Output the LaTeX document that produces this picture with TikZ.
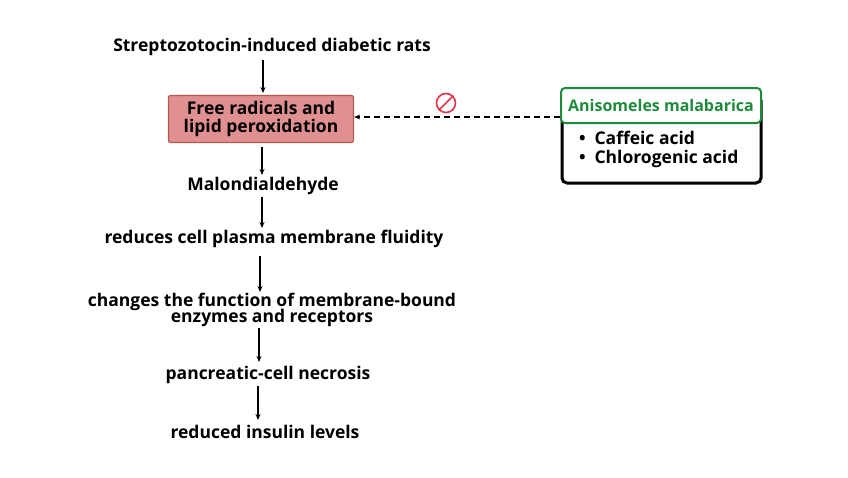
\documentclass[tikz,border=0pt]{standalone}
\usepackage{fontspec}
\setmainfont{Open Sans}
\usetikzlibrary{arrows.meta}
\definecolor{boxfill}{HTML}{E09090}
\definecolor{boxdraw}{HTML}{B05A50}
\definecolor{grn}{HTML}{1E8A3C}
\definecolor{red1}{HTML}{E0364A}
\begin{document}
\begin{tikzpicture}[x=1pt,y=-1pt,
  lbl/.style={font=\fontsize{17.5}{18}\selectfont\bfseries,align=center,inner sep=1pt},
  arr/.style={-{Stealth[length=6pt,width=5pt]},line width=1.2pt}]
\useasboundingbox (0,0) rectangle (848,477);
\node[lbl] (s) at (272,47) {Streptozotocin-induced diabetic rats};
\node[lbl,draw=boxdraw,fill=boxfill,line width=1.2pt,rounded corners=2pt,minimum width=185pt,minimum height=47pt,inner sep=2pt] (f) at (261,119) {Free radicals and\\lipid peroxidation};
\node[lbl] (m) at (263,186) {Malondialdehyde};
\node[lbl] (r) at (274,239) {reduces cell plasma membrane fluidity};
\node[lbl] (c) at (272,310) {changes the function of membrane-bound\\[-2pt]enzymes and receptors};
\node[lbl] (p) at (268,375) {pancreatic-cell necrosis};
\node[lbl] (i) at (265,432) {reduced insulin levels};
\coordinate (a1) at (263,60); \coordinate (b1) at (263,93);
\coordinate (a2) at (262,147); \coordinate (b2) at (262,175);
\coordinate (a3) at (262,197); \coordinate (b3) at (262,228);
\coordinate (a4) at (260,256); \coordinate (b4) at (260,292);
\coordinate (a5) at (259,328); \coordinate (b5) at (259,362);
\coordinate (a6) at (258,386); \coordinate (b6) at (258,420);
\foreach \k in {1,...,6} \draw[arr] (a\k) -- (b\k);
% right box
\draw[line width=3pt,rounded corners=5pt] (562,100) -- (562,183) -- (761,183) -- (761,100);
\node[draw=grn,fill=white,line width=2pt,rounded corners=4pt,minimum width=200pt,minimum height=35pt,text=grn,font=\fontsize{16}{17}\selectfont\bfseries,inner sep=0pt] (h) at (661,105.5) {Anisomeles malabarica};
\node[lbl,align=left,anchor=north west] (l) at (578,130) {•\enspace Caffeic acid\\[1pt]•\enspace Chlorogenic acid};
\draw[arr,dashed,dash pattern=on 6pt off 4pt] (h.west |- 0,117) -- (f.east |- 0,117);
\node[circle,draw=red1,line width=1.6pt,minimum size=19pt,inner sep=0pt] (x) at (446,103) {};
\draw[red1,line width=1.6pt] (x.south west) -- (x.north east);
\end{tikzpicture}
\end{document}
